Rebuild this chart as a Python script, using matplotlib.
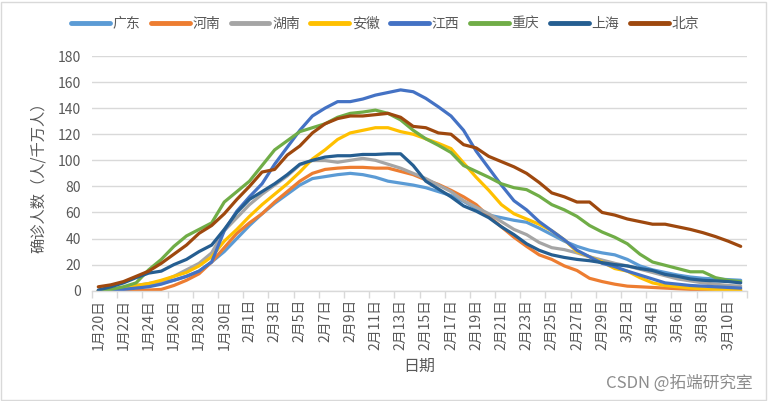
import matplotlib
matplotlib.use("Agg")
import matplotlib.pyplot as plt
from matplotlib.patches import Rectangle

plt.rcParams['font.family'] = ['Noto Sans CJK SC', 'DejaVu Sans']

# dates 1/20 - 3/11, one point per day
dates = (["1月%d日" % d for d in range(20, 32)] +
         ["2月%d日" % d for d in range(1, 30)] +
         ["3月%d日" % d for d in range(1, 12)])

guangdong = [0, 1, 2, 3, 4, 6, 8, 11, 15, 22, 30, 40, 50, 59, 67, 74, 81, 86, 87.5, 89,
             90, 89, 87, 84, 82.5, 81, 79, 76, 73, 68.5, 63, 58, 56, 54, 52.5, 48, 43, 38, 34, 31,
             29, 27.5, 24, 19, 16, 14, 12, 10.5, 9.5, 9, 8.5, 8]
henan = [0, 0, 0, 0, 0.5, 1, 4, 8, 13, 22, 33, 44, 52, 59, 68, 76, 84, 90, 93, 94,
         94.6, 94.6, 94, 94, 91.5, 89, 85, 81.5, 77, 72, 66, 57, 49, 41, 34, 27.5, 24, 19, 15.5, 9.5,
         7, 5, 3.5, 3, 2.5, 2, 1.5, 1, 1, 0.5, 0.5, 0.5]
hunan = [0, 1, 2.5, 4, 5.5, 7, 11, 16, 21, 29, 46, 56, 66, 74, 81, 88, 96.5, 99.8, 99.8, 98.5,
         100, 101.5, 100, 97, 94, 90, 86, 81, 76, 69, 64, 59, 53, 47, 43, 37, 33, 31.5, 29, 26,
         23.5, 21, 19, 16.5, 14, 11.5, 9, 7.5, 6, 5, 4, 3.5]
anhui = [0, 1, 2, 4, 5.5, 8, 11, 14, 19, 26, 38, 47, 57, 66, 74, 82, 91, 101, 108, 116,
         121, 123, 125, 125, 122, 120, 116.5, 113, 109, 98, 87, 77, 66, 59, 55, 51, 46, 39, 30, 26,
         22, 17, 15, 10, 6, 4, 3, 2, 1.5, 1, 0.5, 0.3]
jiangxi = [0, 0.5, 1, 2, 3, 5, 8, 11, 15, 22, 46, 61, 72, 82, 97, 110, 123, 134, 140, 145,
           145, 147, 150, 152, 154, 152.6, 147.5, 141, 134, 123, 107, 94, 81, 69, 62, 53, 46, 39, 31, 26,
           21, 18.5, 15, 12, 9, 6, 5, 4, 3.5, 3, 2.5, 2]
chongqing = [0, 1, 3, 6, 16, 24, 34, 42, 47, 52, 68, 76, 84, 96, 108, 115, 122, 125, 128, 133,
             136, 137, 138.5, 136, 131, 123, 116.5, 111.5, 106, 96, 91.5, 87, 82, 79, 77.5, 72.5, 66, 62, 57, 50,
             45, 41, 36, 28, 22, 19.5, 17, 14.5, 14.5, 10, 8, 7]
shanghai = [0.5, 3, 6, 10, 13.5, 15, 20, 24, 30, 35, 47, 60, 70, 76, 82, 89, 97, 100, 102.5, 103.5,
            103.5, 104.5, 104.5, 105, 105, 96, 84, 78, 72, 65, 61, 56, 49, 43, 36, 31, 27.5, 25.5, 24, 23,
            21.5, 20, 19, 17, 15.5, 12.5, 11, 9, 8, 7.5, 7, 6]
beijing = [3, 4.5, 7, 11, 15, 21, 28, 35, 44, 50, 59, 70, 80, 91, 93, 104, 111, 121, 128, 132,
           134, 134, 135, 136, 133, 126, 125, 121, 120, 112, 109.5, 103, 99, 95, 90, 83, 75, 72, 68, 68,
           60, 58, 55, 53, 51, 51, 49, 47, 44.5, 41.5, 38, 34]

series = [("广东", guangdong, "#5B9BD5"),
          ("河南", henan, "#ED7D31"),
          ("湖南", hunan, "#A5A5A5"),
          ("安徽", anhui, "#FFC000"),
          ("江西", jiangxi, "#4472C4"),
          ("重庆", chongqing, "#70AD47"),
          ("上海", shanghai, "#255E91"),
          ("北京", beijing, "#9E480E")]

fig = plt.figure(figsize=(7.68, 4.01), dpi=100)
ax = fig.add_axes([92 / 768, 1 - 290.7 / 401, 655 / 768, 234.7 / 401])

x = list(range(len(dates)))
for name, vals, col in series:
    ax.plot(x, vals, color=col, lw=2.3, label=name, solid_capstyle='round', solid_joinstyle='round')

ax.set_xlim(-0.5, len(dates) - 0.5)
ax.set_ylim(0, 180)
ax.set_yticks(range(0, 181, 20))
ax.grid(axis='y', color='#D9D9D9', lw=1)
ax.set_axisbelow(True)
for s in ['top', 'right', 'left']:
    ax.spines[s].set_visible(False)
ax.spines['bottom'].set_color('#D9D9D9')
ax.spines['bottom'].set_linewidth(1)

# labels every 2 days, tick marks between categories
ax.set_xticks(x[::2])
ax.set_xticklabels(dates[::2], rotation=90, fontsize=10, color='#595959')
ax.set_xticks([i - 0.5 for i in range(0, len(dates) + 1, 2)], minor=True)
ax.tick_params(axis='x', which='major', length=0, pad=6)
ax.tick_params(axis='x', which='minor', length=5, color='#D9D9D9', width=1)
ax.tick_params(axis='y', length=0, labelsize=10, labelcolor='#595959', pad=8)

ax.set_xlabel("日期", fontsize=11.5, color='#595959', labelpad=6)
ax.set_ylabel("确诊人数（人/千万人）", fontsize=11, color='#595959', labelpad=8)

fig.legend(loc='center', bbox_to_anchor=(385 / 768, 1 - 24 / 401), ncol=8, frameon=False,
           fontsize=10, handlelength=2.8, handletextpad=0.2, columnspacing=0.75,
           labelcolor='#595959')
for line in fig.legends[0].get_lines():
    line.set_linewidth(3.5)

fig.text(753 / 768, 1 - 383 / 401, "CSDN @拓端研究室", ha='right', va='center',
         fontsize=12, color='#8C8C8C')

fig.patches.append(Rectangle((1 / 768, 1 / 401), 765 / 768, 398 / 401, transform=fig.transFigure,
                             fill=False, edgecolor='#D9D9D9', lw=1))

fig.savefig("out.png", dpi=100)
